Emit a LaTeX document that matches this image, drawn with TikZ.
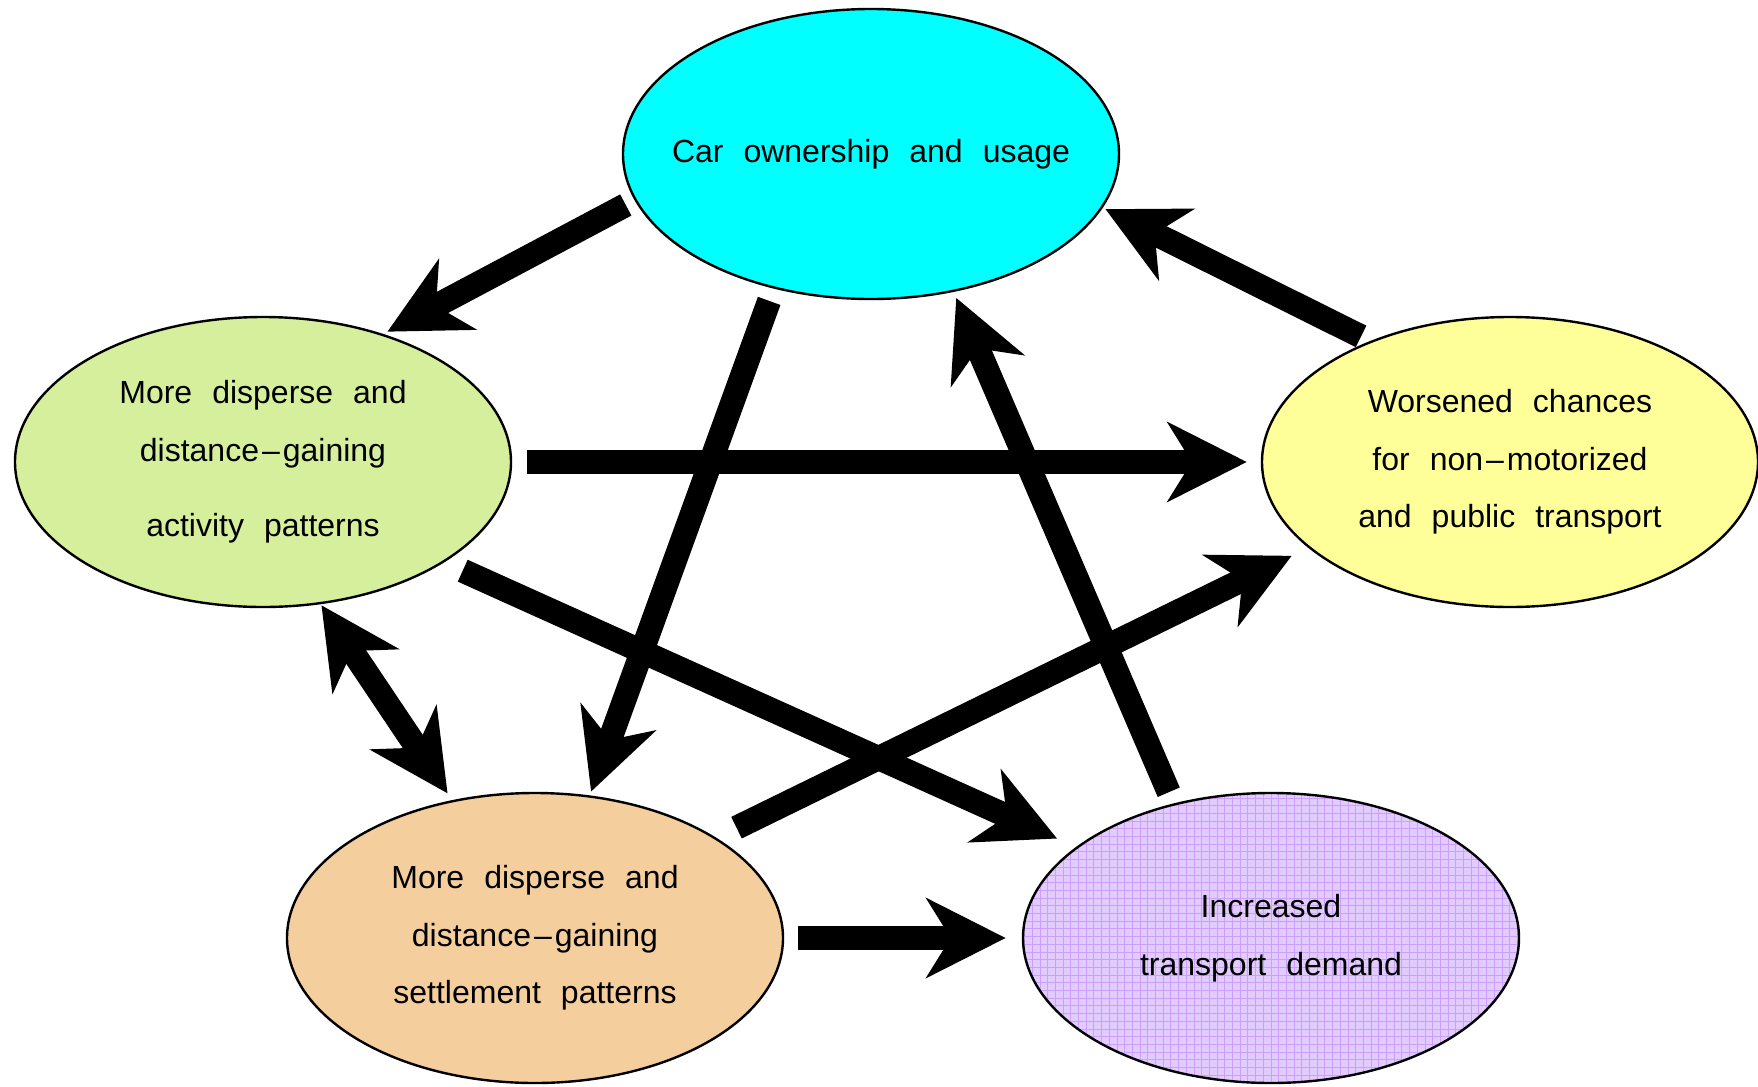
\documentclass[tikz,border=0pt]{standalone}
\usepackage{fontspec}
\setmainfont{Liberation Sans}
\usetikzlibrary{arrows.meta,shapes.geometric}
\definecolor{carcyan}{RGB}{0,255,255}
\definecolor{actgreen}{RGB}{214,239,156}
\definecolor{woryellow}{RGB}{255,255,153}
\definecolor{setpeach}{RGB}{244,206,157}
\definecolor{inclilac}{RGB}{226,204,255}
\definecolor{incgrid}{RGB}{204,160,250}
\newcommand{\widewords}{\fontsize{16}{28.75}\selectfont\spaceskip=10pt\relax}
\newcommand{\dsh}{\kern1.5pt–\kern1.5pt}

\begin{document}
\begin{tikzpicture}[x=0.5pt, y=0.5pt,
    bubble/.style={ellipse, draw=black, line width=1.2pt, outer sep=0pt,
      minimum width=248pt, minimum height=145pt, inner sep=0pt, align=center,
      font=\widewords},
    fat/.style={line width=12pt, -{Stealth[length=39.5pt,width=39.5pt,inset=12pt]}},
    fatboth/.style={line width=12pt, {Stealth[length=39.5pt,width=39.5pt,inset=12pt]}-{Stealth[length=39.5pt,width=39.5pt,inset=12pt]}}]
  \useasboundingbox (0,0) rectangle (1758,-1087);

  % Ellipses
  \node[bubble, fill=carcyan, inner xsep=-14pt] (car) at (871,-154) {Car ownership and usage};
  \node[bubble, fill=actgreen] (act) at (263,-462)
    {More disperse and\\distance\dsh gaining\\[9pt]activity patterns};
  \node[bubble, fill=woryellow] (wor) at (1510,-462)
    {Worsened chances\\for non\dsh motorized\\and public transport};
  \node[bubble, fill=setpeach] (set) at (535,-938)
    {More disperse and\\distance\dsh gaining\\settlement patterns};
  \node[bubble, fill=inclilac, path picture={
      \draw[incgrid, line width=0.4pt, step=3.85pt]
        (path picture bounding box.south west) grid (path picture bounding box.north east);}]
    (inc) at (1271,-938) {Increased\\transport demand};

  % Arrows
  \draw[fat, shorten <=5.6pt, shorten >=3.2pt] (car.191) -- (act.47.4);
  \draw[fat, shorten <=5.9pt, shorten >=2.1pt] (wor.139.1) -- (car.347.8);
  \draw[fat, shorten <=8pt, shorten >=7.6pt] (act.east) -- (wor.west);
  \draw[fat, shorten <=7.15pt, shorten >=2.6pt] (car.234.4) -- (set.69.1);
  \draw[fat, shorten <=6.7pt, shorten >=3.85pt] (inc.126.1) -- (car.301.5);
  \draw[fat, shorten <=10.85pt, shorten >=11pt] (act.331.6) -- (inc.155.9);
  \draw[fat, shorten <=12pt, shorten >=9.8pt] (set.29.1) -- (wor.203.4);
  \draw[fatboth, shorten <=1.3pt, shorten >=4.7pt] (act.292.3) -- (set.121.9);
  \draw[fat, shorten <=7.65pt, shorten >=8.65pt] (set.east) -- (inc.west);
\end{tikzpicture}
\end{document}
